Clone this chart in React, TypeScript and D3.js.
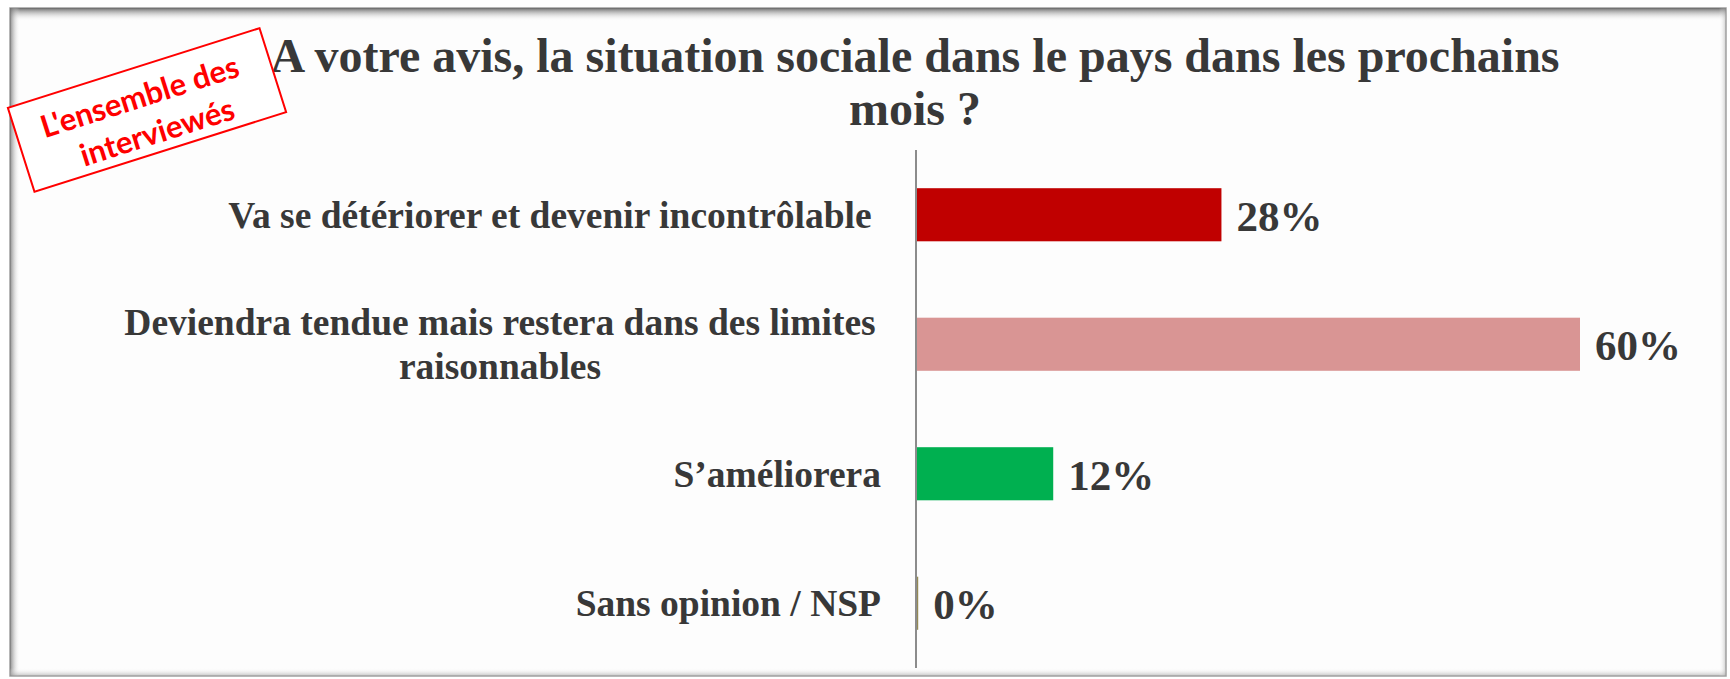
import React from "react";
import * as d3 from "d3";

const categories: string[][] = [
  ["Va se détériorer et devenir incontrôlable "],
  ["Deviendra tendue mais restera dans des limites ", "raisonnables"],
  ["S’améliorera"],
  ["Sans opinion / NSP"],
];
const values: number[] = [27.6, 60, 12.4, 0.2];
const valueLabels: string[] = ["28%", "60%", "12%", "0%"];
const colors: string[] = ["#C00000", "#D99594", "#00B050", "#948A54"];
const titleLines: string[] = [
  "A votre avis, la situation sociale dans le pays dans les prochains",
  "mois ?",
];
const stampLines: string[] = ["L'ensemble des", "interviewés"];

const W = 1730;
const H = 679;
const SERIF = "'Liberation Serif', 'Times New Roman', serif";
const TEXT = "#383838";

export default function App() {
  const axisX = 916;
  const x = d3.scaleLinear().domain([0, 60]).range([axisX, 1580]);
  const y = d3
    .scaleBand<number>()
    .domain(d3.range(values.length))
    .range([150, 668])
    .paddingInner(0.59)
    .paddingOuter(0.295);
  const bw = y.bandwidth();

  return (
    <svg
      width={W}
      height={H}
      style={{ position: "absolute", left: 0, top: 0, background: "#fff" }}
    >
      <defs>
        <linearGradient id="gTop" x1="0" y1="0" x2="0" y2="1">
          <stop offset="0" stopColor="#666" stopOpacity="0.95" />
          <stop offset="1" stopColor="#ffffff" stopOpacity="0" />
        </linearGradient>
        <linearGradient id="gLeft" x1="0" y1="0" x2="1" y2="0">
          <stop offset="0" stopColor="#6e6e6e" stopOpacity="0.8" />
          <stop offset="1" stopColor="#ffffff" stopOpacity="0" />
        </linearGradient>
        <linearGradient id="gBottom" x1="0" y1="1" x2="0" y2="0">
          <stop offset="0" stopColor="#9a9a9a" stopOpacity="0.6" />
          <stop offset="1" stopColor="#ffffff" stopOpacity="0" />
        </linearGradient>
        <linearGradient id="gRight" x1="1" y1="0" x2="0" y2="0">
          <stop offset="0" stopColor="#9a9a9a" stopOpacity="0.5" />
          <stop offset="1" stopColor="#ffffff" stopOpacity="0" />
        </linearGradient>
      </defs>
      {/* frame */}
      <rect x={10} y={8} width={1716} height={668} fill="#fdfdfd" stroke="#a0a0a0" strokeWidth={1.5} />
      <rect x={10} y={8} width={1716} height={13} fill="url(#gTop)" />
      <rect x={10} y={8} width={10} height={668} fill="url(#gLeft)" />
      <rect x={10} y={668} width={1716} height={8} fill="url(#gBottom)" />
      <rect x={1719} y={8} width={7} height={668} fill="url(#gRight)" />

      {/* title */}
      <text
        x={915}
        y={72}
        textAnchor="middle"
        fontFamily={SERIF}
        fontWeight="bold"
        fontSize={48}
        fill={TEXT}
      >
        {titleLines.map((t, i) => (
          <tspan key={i} x={915} dy={i === 0 ? 0 : 53}>
            {t}
          </tspan>
        ))}
      </text>

      {/* bars */}
      {values.map((v, i) => (
        <rect
          key={"b" + i}
          x={x(0)}
          y={y(i)!}
          width={x(v) - x(0)}
          height={bw}
          fill={colors[i]}
        />
      ))}
      {/* axis */}
      <line x1={axisX} x2={axisX} y1={150} y2={668} stroke="#8c8c8c" strokeWidth={2} />

      {/* value labels */}
      {values.map((v, i) => (
        <text
          key={"v" + i}
          x={x(v) + 15}
          y={y(i)! + bw / 2 + 16}
          fontFamily={SERIF}
          fontWeight="bold"
          fontSize={43}
          fill={TEXT}
        >
          {valueLabels[i]}
        </text>
      ))}

      {/* category labels */}
      {categories.map((lines, i) => {
        const cy = y(i)! + bw / 2;
        const lh = 44;
        if (lines.length === 1) {
          return (
            <text
              key={"c" + i}
              x={881}
              y={cy + 13}
              textAnchor="end"
              fontFamily={SERIF}
              fontWeight="bold"
              fontSize={37.5}
              fill={TEXT}
              style={{ whiteSpace: "pre" }}
            >
              {lines[0]}
            </text>
          );
        }
        return (
          <text
            key={"c" + i}
            x={500}
            y={cy - ((lines.length - 1) * lh) / 2 + 13}
            textAnchor="middle"
            fontFamily={SERIF}
            fontWeight="bold"
            fontSize={37.5}
            fill={TEXT}
          >
            {lines.map((l, j) => (
              <tspan key={j} x={500} dy={j === 0 ? 0 : lh}>
                {l.trim()}
              </tspan>
            ))}
          </text>
        );
      })}

      {/* stamp */}
      <g transform="translate(147,110) rotate(-17.6)">
        <rect x={-132} y={-44} width={264} height={88} fill="#ffffff" stroke="#ff0000" strokeWidth={2} />
        {stampLines.map((s, i) => (
          <text
            key={"s" + i}
            x={i === 0 ? -3 : 3}
            y={i === 0 ? -4 : 35}
            textAnchor="middle"
            fontFamily="Lato, 'Open Sans', sans-serif"
            fontWeight="bold"
            fontSize={31}
            fill="#ff0000"
          >
            {s}
          </text>
        ))}
      </g>
    </svg>
  );
}
